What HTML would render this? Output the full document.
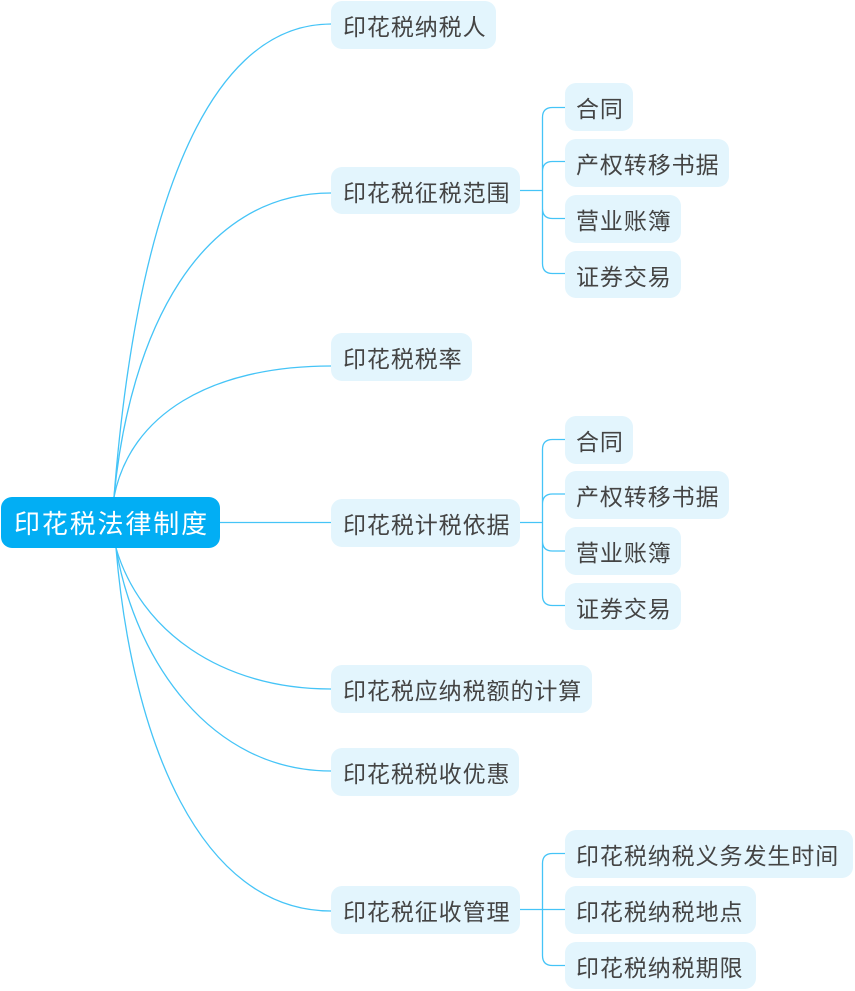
<!DOCTYPE html>
<html><head><meta charset="utf-8">
<style>
html,body{margin:0;padding:0;background:#fff;width:855px;height:991px;overflow:hidden}
svg{display:block}
text{font-family:"Liberation Sans","WenQuanYi Zen Hei","Noto Sans CJK SC",sans-serif;font-size:23px;letter-spacing:0.92px;fill:#444}
.n{fill:#e3f5fd}
.l{fill:none;stroke:#45c4f7;stroke-width:1.3}
</style></head><body>
<svg width="855" height="991" viewBox="0 0 855 991" xmlns="http://www.w3.org/2000/svg">
<g class="l">
<path class="l" d="M114 497C135 230 200 24 331 24"/>
<path class="l" d="M114 497C130 330 200 193 331 193"/>
<path class="l" d="M114 497C130 415 210 366 331 366"/>
<path class="l" d="M220 522.500H331"/>
<path class="l" d="M116 548C140 630 220 689 331 689"/>
<path class="l" d="M116 548C135 660 210 771 331 771"/>
<path class="l" d="M116 548C132 740 200 911 331 911"/>
<path class="l" d="M520 190.500H542.500M565 107.500H552.500Q542.500 107.500 542.500 117.500V263.500Q542.500 273.500 552.500 273.500H565M565 161.500H552.500Q542.500 161.500 542.500 171.500M542.500 208.500Q542.500 218.500 552.500 218.500H565"/>
<path class="l" d="M520 522.500H542.500M565 439.500H552.500Q542.500 439.500 542.500 449.500V595.500Q542.500 605.500 552.500 605.500H565M565 494H552.500Q542.500 494 542.500 504M542.500 541Q542.500 551 552.500 551H565"/>
<path class="l" d="M520 909.500H565M565 853.500H552.500Q542.500 853.500 542.500 863.500V955.500Q542.500 965.500 552.500 965.500H565"/>
</g>
<rect x="1" y="497" width="219" height="51" rx="11" fill="#02aef4"/>
<text x="14" y="533" style="font-size:26px;letter-spacing:1.85px;fill:#fff">印花税法律制度</text>

<rect class="n" x="331" y="1" width="165" height="48" rx="11"/><text x="343" y="35">印花税纳税人</text>
<rect class="n" x="331" y="167" width="189" height="47" rx="11"/><text x="343" y="201">印花税征税范围</text>
<rect class="n" x="331" y="333" width="141" height="48" rx="11"/><text x="343" y="367">印花税税率</text>
<rect class="n" x="331" y="499" width="189" height="48" rx="11"/><text x="343" y="533">印花税计税依据</text>
<rect class="n" x="331" y="665" width="261" height="48" rx="11"/><text x="343" y="699">印花税应纳税额的计算</text>
<rect class="n" x="331" y="748" width="188" height="48" rx="11"/><text x="343" y="782">印花税税收优惠</text>
<rect class="n" x="331" y="886" width="189" height="48" rx="11"/><text x="343" y="920">印花税征收管理</text>

<rect class="n" x="565" y="83" width="68" height="48" rx="11"/><text x="576" y="117">合同</text>
<rect class="n" x="565" y="139" width="164" height="48" rx="11"/><text x="576" y="173">产权转移书据</text>
<rect class="n" x="565" y="195" width="116" height="48" rx="11"/><text x="576" y="229">营业账簿</text>
<rect class="n" x="565" y="251" width="116" height="47" rx="11"/><text x="576" y="285">证券交易</text>

<rect class="n" x="565" y="416" width="68" height="48" rx="11"/><text x="576" y="450">合同</text>
<rect class="n" x="565" y="471" width="164" height="48" rx="11"/><text x="576" y="505">产权转移书据</text>
<rect class="n" x="565" y="527" width="116" height="48" rx="11"/><text x="576" y="561">营业账簿</text>
<rect class="n" x="565" y="583" width="116" height="47" rx="11"/><text x="576" y="617">证券交易</text>

<rect class="n" x="565" y="830" width="288" height="48" rx="11"/><text x="576" y="864">印花税纳税义务发生时间</text>
<rect class="n" x="565" y="886" width="191" height="48" rx="11"/><text x="576" y="920">印花税纳税地点</text>
<rect class="n" x="565" y="942" width="191" height="47" rx="11"/><text x="576" y="976">印花税纳税期限</text>
</svg>
</body></html>
